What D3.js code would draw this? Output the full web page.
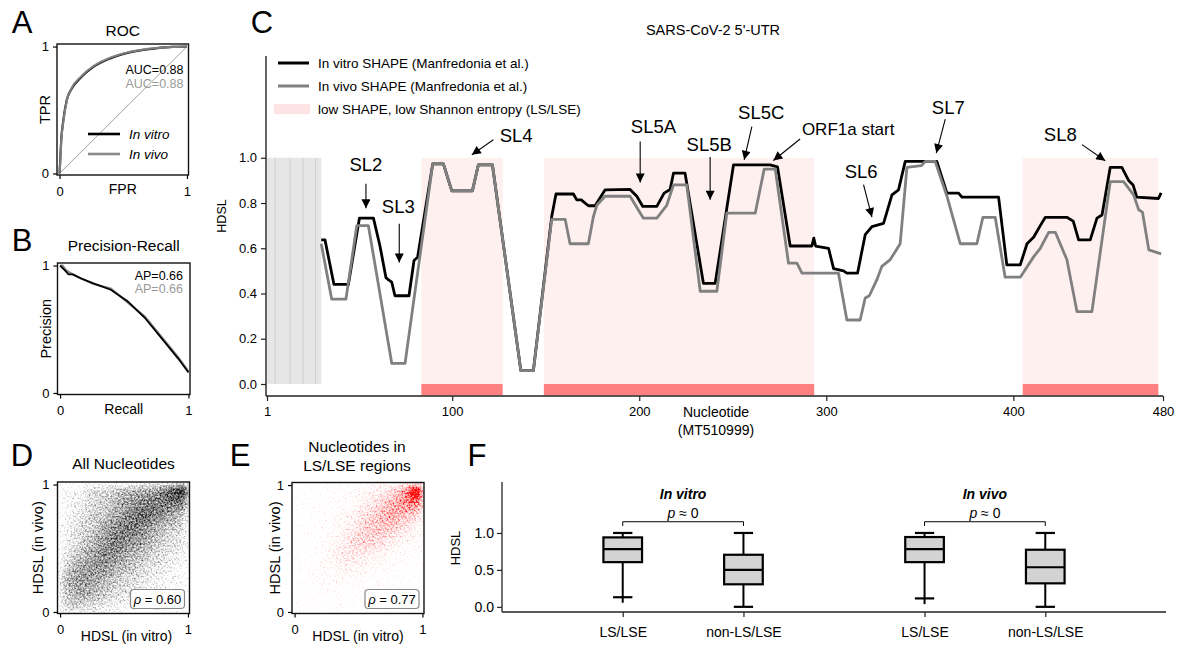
<!DOCTYPE html>
<html>
<head>
<meta charset="utf-8">
<script src="https://cdnjs.cloudflare.com/ajax/libs/d3/7.8.5/d3.min.js"></script>
<style>
  body { margin: 0; background: #fff; }
  svg { font-family: "Liberation Sans", Arial, sans-serif; }
</style>
</head>
<body>
<div id="chart"></div>
<script>
// ---------- data ----------
// A: ROC
const rocFpr      = [0, 0.005, 0.013, 0.03, 0.057, 0.096, 0.161, 0.265, 0.369, 0.525, 0.707, 0.889, 1];
const rocTprVitro = [0, 0.10, 0.26, 0.42, 0.58, 0.67, 0.75, 0.84, 0.895, 0.948, 0.98, 0.997, 1];
const rocTprVivo  = [0, 0.08, 0.25, 0.41, 0.575, 0.675, 0.757, 0.846, 0.9, 0.951, 0.983, 0.998, 1];
const aucLabels = ["AUC=0.88", "AUC=0.88"];

// B: precision-recall
const prRecall    = [0, 0.02, 0.04, 0.066, 0.1, 0.16, 0.26, 0.395, 0.526, 0.66, 0.79, 0.92, 1];
const prPrecVitro = [1, 0.98, 0.96, 0.93, 0.93, 0.9, 0.86, 0.81, 0.72, 0.59, 0.43, 0.27, 0.16];
const prPrecVivo  = [1, 1.0, 0.97, 0.95, 0.93, 0.9, 0.855, 0.82, 0.71, 0.60, 0.44, 0.28, 0.17];
const apLabels = ["AP=0.66", "AP=0.66"];

// C: HDSL profiles along the 5'-UTR  [nucleotide, HDSL]
const vitroLine = [
  [30,0.637],[32,0.637],[36.8,0.44],[44.5,0.44],[50.4,0.733],[57.9,0.733],[61.4,0.61],[64.6,0.47],
  [66,0.46],[67.7,0.45],[69.4,0.39],[76.9,0.39],[79.6,0.546],[81.5,0.56],[89.6,0.973],[95.3,0.973],
  [99.8,0.854],[110.8,0.854],[114,0.969],[121.5,0.969],[136.7,0.059],[143.4,0.059],[153.2,0.74],
  [155.5,0.84],[164.8,0.84],[166.6,0.814],[169,0.814],[172.8,0.788],[176.4,0.788],[181.7,0.858],
  [195.1,0.86],[198.7,0.83],[201.9,0.785],[209.4,0.785],[213.3,0.844],[216.5,0.86],[218.3,0.932],
  [224.5,0.932],[234.3,0.445],[240.6,0.445],[250.4,0.969],[269.9,0.969],[273.9,0.96],[280.7,0.61],
  [292.3,0.61],[293.3,0.645],[294.3,0.61],[301.2,0.60],[303.9,0.51],[309.2,0.50],[311,0.49],
  [316.7,0.49],[320.8,0.66],[324.4,0.696],[330.6,0.71],[335.1,0.836],[338.6,0.858],[342.2,0.984],
  [359.1,0.984],[364.5,0.844],[370.7,0.844],[372.5,0.826],[392.1,0.826],[396.5,0.527],[403.7,0.527],
  [407.3,0.62],[410.9,0.65],[414.4,0.70],[417.1,0.737],[428.6,0.737],[432,0.72],[434.9,0.637],
  [441.1,0.637],[444.7,0.733],[447.4,0.747],[451.8,0.958],[458,0.958],[461.6,0.90],[464,0.88],
  [466,0.826],[477.6,0.82],[479,0.845]
];
const vivoLine = [
  [30,0.62],[35.6,0.375],[43.2,0.375],[49,0.70],[55.2,0.70],[67.7,0.091],[74.8,0.091],[89.6,0.973],
  [95.3,0.973],[99.8,0.854],[110.8,0.854],[114,0.969],[121.5,0.969],[136.7,0.059],[143.4,0.059],
  [153.2,0.728],[160.4,0.728],[163,0.62],[172.8,0.62],[175.5,0.74],[177.3,0.79],[181.7,0.83],
  [195.1,0.83],[202.2,0.733],[209.4,0.733],[214.7,0.79],[218.3,0.88],[225.4,0.88],[232.6,0.41],
  [241.5,0.41],[246.8,0.755],[262,0.755],[266.8,0.95],[272.7,0.95],[279.8,0.534],[284.3,0.534],
  [287,0.49],[306.5,0.49],[311,0.283],[318.1,0.283],[320.8,0.38],[323,0.39],[327,0.46],[329.7,0.52],
  [334.2,0.55],[339.5,0.62],[343.1,0.958],[350.8,0.965],[352.9,0.984],[358.2,0.984],[364.5,0.83],
  [369.8,0.674],[371.6,0.62],[380.5,0.62],[383.7,0.737],[390.3,0.737],[395.6,0.472],[403.7,0.472],
  [410.9,0.563],[414.4,0.60],[418.9,0.67],[422.5,0.67],[428.6,0.55],[434,0.32],[442,0.32],
  [451.8,0.895],[458.9,0.895],[464.3,0.836],[467,0.77],[469,0.76],[472.4,0.593],[479,0.575]
];
const lsRegions = [[83.5, 127], [149, 293.5], [405, 477.5]];
const maskedRegion = [1, 30];
const maskedDividers = [5.3, 13.3, 20.3, 27];
const cTicksX = [1, 100, 200, 300, 400, 480];
const cTicksY = [0, 0.2, 0.4, 0.6, 0.8, 1.0];
// annotations in data units: label, text position, arrow start, arrow end
const cAnnot = [
  {label: "SL2",  t: [53.9, 0.969],  a: [53.9, 0.885],  b: [53.9, 0.777]},
  {label: "SL3",  t: [71.2, 0.785],  a: [71.7, 0.708],  b: [71.7, 0.537]},
  {label: "SL4",  t: [134.2, 1.097], a: [122.0, 1.080], b: [110.5, 1.013]},
  {label: "SL5A", t: [207.6, 1.138], a: [200.5, 1.072], b: [200.5, 0.891]},
  {label: "SL5B", t: [237.4, 1.058], a: [237.9, 1.003], b: [237.9, 0.814]},
  {label: "SL5C", t: [265.2, 1.200], a: [260.2, 1.138], b: [256.1, 0.991]},
  {label: "ORF1a start", t: [311.7, 1.128], a: [286.0, 1.083], b: [271.7, 0.988]},
  {label: "SL6",  t: [318.6, 0.939], a: [319.9, 0.881], b: [324.4, 0.738]},
  {label: "SL7",  t: [365.2, 1.221], a: [363.6, 1.171], b: [358.8, 1.021]},
  {label: "SL8",  t: [425.1, 1.102], a: [436.7, 1.058], b: [449.1, 0.987]}
];
const cLegend = ["In vitro SHAPE (Manfredonia et al.)", "In vivo SHAPE (Manfredonia et al.)",
                 "low SHAPE, low Shannon entropy (LS/LSE)"];

// D, E: point density, rows from HDSL(in vivo) 0-0.1 up to 0.9-1.0, columns HDSL(in vitro) 0 -> 1
const densAll = [
  [0.35,0.35,0.30,0.25,0.20,0.15,0.12,0.10,0.08,0.05],
  [0.40,0.50,0.45,0.35,0.30,0.25,0.20,0.15,0.10,0.08],
  [0.45,0.55,0.50,0.45,0.35,0.30,0.25,0.20,0.15,0.10],
  [0.35,0.50,0.55,0.55,0.45,0.40,0.30,0.25,0.20,0.15],
  [0.25,0.40,0.50,0.60,0.55,0.45,0.40,0.30,0.25,0.20],
  [0.20,0.30,0.45,0.55,0.65,0.55,0.50,0.40,0.30,0.25],
  [0.20,0.30,0.35,0.50,0.60,0.65,0.55,0.45,0.35,0.30],
  [0.15,0.25,0.35,0.40,0.50,0.60,0.70,0.60,0.50,0.40],
  [0.15,0.20,0.30,0.35,0.45,0.55,0.60,0.65,0.65,0.60],
  [0.15,0.20,0.30,0.35,0.40,0.45,0.50,0.55,0.70,0.95]
];
const densLS = [
  [0.03,0.02,0.02,0.01,0.01,0.00,0.00,0.00,0.00,0.00],
  [0.01,0.04,0.05,0.04,0.03,0.02,0.02,0.01,0.01,0.00],
  [0.02,0.06,0.08,0.10,0.08,0.05,0.04,0.03,0.02,0.01],
  [0.01,0.05,0.10,0.15,0.15,0.12,0.08,0.05,0.03,0.02],
  [0.01,0.03,0.10,0.20,0.25,0.20,0.15,0.10,0.06,0.04],
  [0.00,0.02,0.08,0.15,0.30,0.35,0.30,0.20,0.12,0.08],
  [0.00,0.01,0.05,0.12,0.20,0.35,0.40,0.35,0.25,0.15],
  [0.00,0.01,0.03,0.08,0.15,0.30,0.40,0.50,0.40,0.30],
  [0.00,0.00,0.02,0.05,0.10,0.20,0.30,0.45,0.55,0.60],
  [0.00,0.00,0.02,0.05,0.08,0.12,0.20,0.30,0.50,1.00]
];
const rhoAll = "0.60";
const rhoLS = "0.77";

// F: HDSL box plots
const fGroups = ["In vitro", "In vivo"];
const fCats = ["LS/LSE", "non-LS/LSE", "LS/LSE", "non-LS/LSE"];
const fPos = [1, 2, 3.5, 4.5];
const fQ1 = [0.605, 0.305, 0.605, 0.318];
const fMed = [0.78, 0.50, 0.78, 0.536];
const fQ3 = [0.94, 0.705, 0.945, 0.773];
const fWhiskLo = [0.13, 0.0, 0.114, 0.0];
const fWhiskHi = [1, 1, 1, 1];
const fLineLo = [0.055, 0.0, 0.036, 0.0];
const fTicks = [0, 0.5, 1.0];

// ---------- drawing ----------
const svg = d3.select("#chart").append("svg")
    .attr("width", 1179)
    .attr("height", 648);
const defs = svg.append("defs");

defs.append("marker")
    .attr("id", "arrow")
    .attr("viewBox", "0 0 10 10")
    .attr("refX", 10).attr("refY", 5)
    .attr("markerWidth", 10).attr("markerHeight", 9)
    .attr("markerUnits", "userSpaceOnUse")
    .attr("orient", "auto")
    .append("path").attr("d", "M0,0 L10,5 L0,10 z").attr("fill", "#000");

// panel letters
const letters = [["A", 22, 22], ["B", 22, 240], ["C", 262, 22], ["D", 22, 455], ["E", 240, 455], ["F", 477, 455]];
svg.selectAll("text.letter").data(letters).enter().append("text")
    .attr("class", "letter")
    .attr("x", d => d[1])
    .attr("y", d => d[2] + 11)
    .attr("text-anchor", "middle")
    .style("font-size", "31px")
    .text(d => d[0]);

// small framed unit-square panels (A, B, D, E)
function unitPanel(box, opts) {
  const g = svg.append("g");
  const x = d3.scaleLinear().domain([-0.02, 1.012]).range([box.l, box.r]);
  const y = d3.scaleLinear().domain([-0.012, 1.02]).range([box.b, box.t]);

  const ax = g.append("g").attr("transform", `translate(0,${box.b})`)
      .call(d3.axisBottom(x).tickValues([0, 1]).tickFormat(d3.format("d")).tickSize(4).tickPadding(4));
  const ay = g.append("g").attr("transform", `translate(${box.l},0)`)
      .call(d3.axisLeft(y).tickValues([0, 1]).tickFormat(d3.format("d")).tickSize(4).tickPadding(4));
  [ax, ay].forEach(a => {
    a.select(".domain").remove();
    a.selectAll("text").style("font-size", "13px").attr("font-family", null);
    a.selectAll("line").attr("stroke", "#000").attr("stroke-width", 1.2);
  });
  ax.selectAll("text").attr("y", opts.tickDy).attr("dy", "0.35em");

  g.append("text")
      .attr("x", (box.l + box.r) / 2 + (opts.xlShift || 0))
      .attr("y", box.b + opts.xlDy)
      .attr("dy", "0.35em")
      .attr("text-anchor", "middle")
      .style("font-size", "14px")
      .text(opts.xlabel);
  g.append("text")
      .attr("transform", `translate(${opts.ylX},${(box.t + box.b) / 2}) rotate(-90)`)
      .attr("dy", "0.35em")
      .attr("text-anchor", "middle")
      .style("font-size", "14.5px")
      .text(opts.ylabel);
  opts.title.forEach((t, i) => {
    g.append("text")
        .attr("x", (box.l + box.r) / 2 + (opts.titleShift || 0))
        .attr("y", opts.titleY + i * 19)
        .attr("dy", "0.35em")
        .attr("text-anchor", "middle")
        .style("font-size", "15.5px")
        .text(t);
  });
  return {g, x, y, box};
}

function frame(p) {
  p.g.append("rect")
      .attr("x", p.box.l).attr("y", p.box.t)
      .attr("width", p.box.r - p.box.l).attr("height", p.box.b - p.box.t)
      .attr("fill", "none").attr("stroke", "#111").attr("stroke-width", 1.4);
}

// ---- A: ROC
const pA = unitPanel({l: 57, r: 188.5, t: 44, b: 175},
  {xlabel: "FPR", ylabel: "TPR", title: ["ROC"], titleY: 31, tickDy: 16, xlDy: 14, ylX: 45});
pA.g.append("line")
    .attr("x1", pA.x(0)).attr("y1", pA.y(0)).attr("x2", pA.x(1)).attr("y2", pA.y(1))
    .attr("stroke", "#999").attr("stroke-width", 0.9);
const rocLine = d3.line().x(d => pA.x(d[0])).y(d => pA.y(d[1])).curve(d3.curveMonotoneX);
pA.g.append("path").attr("d", rocLine(rocFpr.map((f, i) => [f, rocTprVitro[i]])))
    .attr("fill", "none").attr("stroke", "#000").attr("stroke-width", 2.2);
pA.g.append("path").attr("d", rocLine(rocFpr.map((f, i) => [f, rocTprVivo[i]])))
    .attr("fill", "none").attr("stroke", "#8a8a8a").attr("stroke-width", 2.2).attr("stroke-opacity", 0.9);
aucLabels.forEach((t, i) => {
  pA.g.append("text").attr("x", pA.box.r - 5).attr("y", 70 + i * 14).attr("dy", "0.35em")
      .attr("text-anchor", "end").style("font-size", "12.5px")
      .attr("fill", i ? "#999" : "#000").text(t);
});
[["In vitro", "#000"], ["In vivo", "#8a8a8a"]].forEach((d, i) => {
  const yy = 134 + i * 20;
  pA.g.append("line").attr("x1", 88).attr("x2", 120).attr("y1", yy).attr("y2", yy)
      .attr("stroke", d[1]).attr("stroke-width", 2.6);
  pA.g.append("text").attr("x", 129).attr("y", yy).attr("dy", "0.35em")
      .style("font-size", "13.5px").style("font-style", "italic").text(d[0]);
});
frame(pA);

// ---- B: Precision-Recall
const pB = unitPanel({l: 57.5, r: 190, t: 263, b: 394.5},
  {xlabel: "Recall", ylabel: "Precision", title: ["Precision-Recall"], titleY: 246, tickDy: 16, xlDy: 15, ylX: 46});
const prLine = d3.line().x(d => pB.x(d[0])).y(d => pB.y(d[1]));
pB.g.append("path").attr("d", prLine(prRecall.map((r, i) => [r, prPrecVivo[i]])))
    .attr("fill", "none").attr("stroke", "#8a8a8a").attr("stroke-width", 2.2);
pB.g.append("path").attr("d", prLine(prRecall.map((r, i) => [r, prPrecVitro[i]])))
    .attr("fill", "none").attr("stroke", "#000").attr("stroke-width", 1.8);
apLabels.forEach((t, i) => {
  pB.g.append("text").attr("x", pB.box.r - 7).attr("y", 276 + i * 13).attr("dy", "0.35em")
      .attr("text-anchor", "end").style("font-size", "12.5px")
      .attr("fill", i ? "#999" : "#000").text(t);
});
frame(pB);

// ---- D, E: density scatter, drawn as a dithered density map
function densityPanel(p, grid, rgb, id, rho, k, table) {
  const filt = defs.append("filter").attr("id", id)
      .attr("x", "-5%").attr("y", "-5%").attr("width", "110%").attr("height", "110%")
      .attr("color-interpolation-filters", "sRGB");
  filt.append("feGaussianBlur").attr("in", "SourceGraphic").attr("stdDeviation", 4).attr("result", "blur");
  filt.append("feTurbulence").attr("type", "fractalNoise").attr("baseFrequency", 0.55)
      .attr("numOctaves", 2).attr("seed", 7).attr("result", "noise");
  filt.append("feColorMatrix").attr("in", "noise").attr("type", "matrix")
      .attr("values", `0 0 0 0 ${rgb[0]}  0 0 0 0 ${rgb[1]}  0 0 0 0 ${rgb[2]}  1 0 0 0 0`)
      .attr("result", "grain");
  filt.append("feComposite").attr("in", "blur").attr("in2", "grain").attr("operator", "arithmetic")
      .attr("k1", 0).attr("k2", k[0]).attr("k3", k[1]).attr("k4", k[2]).attr("result", "dots");
  filt.append("feComponentTransfer").attr("in", "dots")
    .append("feFuncA").attr("type", "table").attr("tableValues", table);
  defs.append("clipPath").attr("id", id + "-clip").append("rect")
      .attr("x", p.box.l).attr("y", p.box.t)
      .attr("width", p.box.r - p.box.l).attr("height", p.box.b - p.box.t);

  const cells = [];
  grid.forEach((row, r) => row.forEach((v, c) => cells.push({r, c, v})));
  const n = grid.length;
  const color = `rgb(${rgb.map(v => v * 255).join(",")})`;
  p.g.append("g").attr("clip-path", `url(#${id}-clip)`)
    .append("g").attr("filter", `url(#${id})`)
    .selectAll("rect").data(cells).enter().append("rect")
      .attr("x", d => p.x(d.c / n))
      .attr("y", d => p.y((d.r + 1) / n))
      .attr("width", p.x(1 / n) - p.x(0) + 0.5)
      .attr("height", p.y(0) - p.y(1 / n) + 0.5)
      .attr("fill", color)
      .attr("fill-opacity", d => d.v);
  frame(p);

  const bw = 54, bh = 19;
  const bx = p.box.r - 5 - bw, by = p.box.b - 5 - bh;
  p.g.append("rect").attr("x", bx).attr("y", by).attr("width", bw).attr("height", bh)
      .attr("rx", 3.5).attr("fill", "#fff").attr("fill-opacity", 0.85)
      .attr("stroke", "#888").attr("stroke-width", 1.2);
  const t = p.g.append("text").attr("x", bx + bw / 2).attr("y", by + bh / 2).attr("dy", "0.35em")
      .attr("text-anchor", "middle").style("font-size", "13px");
  t.append("tspan").style("font-style", "italic").text("\u03c1");
  t.append("tspan").text(" = " + rho);
}

const pD = unitPanel({l: 57.5, r: 189.5, t: 482, b: 613.5},
  {xlabel: "HDSL (in vitro)", ylabel: "HDSL (in vivo)", title: ["All Nucleotides"], titleY: 464,
   tickDy: 16, xlDy: 23, ylX: 38, xlShift: 3});
densityPanel(pD, densAll, [0, 0, 0], "grainD", rhoAll, [1.4, 1.4, -0.95], "0 0.15 0.35 0.6 0.9");

const pE = unitPanel({l: 292, r: 424, t: 482.5, b: 613.5},
  {xlabel: "HDSL (in vitro)", ylabel: "HDSL (in vivo)", title: ["Nucleotides in", "LS/LSE regions"],
   titleY: 447, tickDy: 16, xlDy: 23, ylX: 275, titleShift: -1});
densityPanel(pE, densLS, [1, 0, 0], "grainE", rhoLS, [1.5, 1.5, -0.95], "0 0.1 0.25 0.5 0.95");

// ---- C: HDSL along the 5'-UTR
const gC = svg.append("g");
const xC = d3.scaleLinear().domain([1, 480]).range([267, 1163]);
const yC = d3.scaleLinear().domain([-0.05, 1.45]).range([395.3, 56]);

gC.append("rect")
    .attr("x", xC(maskedRegion[0])).attr("y", yC(1))
    .attr("width", xC(maskedRegion[1]) - xC(maskedRegion[0])).attr("height", yC(0) - yC(1))
    .attr("fill", "#e6e6e6");
gC.selectAll("line.mask").data(maskedDividers).enter().append("line")
    .attr("x1", d => xC(d)).attr("x2", d => xC(d)).attr("y1", yC(1)).attr("y2", yC(0))
    .attr("stroke", "#cfcfcf").attr("stroke-width", 1);

gC.selectAll("rect.ls").data(lsRegions).enter().append("rect")
    .attr("x", d => xC(d[0])).attr("y", yC(1))
    .attr("width", d => xC(d[1]) - xC(d[0])).attr("height", yC(0) - yC(1))
    .attr("fill", "#fff0f0");
gC.selectAll("rect.lsbar").data(lsRegions).enter().append("rect")
    .attr("x", d => xC(d[0])).attr("y", yC(0))
    .attr("width", d => xC(d[1]) - xC(d[0])).attr("height", yC(-0.05) - yC(0))
    .attr("fill", "#ff8080");

const profile = d3.line().x(d => xC(d[0])).y(d => yC(d[1]));
gC.append("path").attr("d", profile(vitroLine))
    .attr("fill", "none").attr("stroke", "#000").attr("stroke-width", 2.8).attr("stroke-linejoin", "round");
gC.append("path").attr("d", profile(vivoLine))
    .attr("fill", "none").attr("stroke", "#808080").attr("stroke-width", 2.8).attr("stroke-linejoin", "round");

// spines and ticks
gC.append("line").attr("x1", 266).attr("x2", 266).attr("y1", yC(1.45)).attr("y2", yC(-0.05) + 0.7)
    .attr("stroke", "#222").attr("stroke-width", 1.4);
gC.append("line").attr("x1", 266).attr("x2", xC(480)).attr("y1", yC(-0.05) + 0.7).attr("y2", yC(-0.05) + 0.7)
    .attr("stroke", "#222").attr("stroke-width", 1.4);
const axYC = gC.append("g").attr("transform", "translate(266,0)")
    .call(d3.axisLeft(yC).tickValues(cTicksY).tickFormat(d3.format(".1f")).tickSize(5).tickPadding(4));
const axXC = gC.append("g").attr("transform", `translate(0,${yC(-0.05) + 0.7})`)
    .call(d3.axisBottom(xC).tickValues(cTicksX).tickFormat(d3.format("d")).tickSize(5).tickPadding(4));
[axYC, axXC].forEach(a => {
  a.select(".domain").remove();
  a.selectAll("line").attr("stroke", "#222").attr("stroke-width", 1.2);
  a.selectAll("text").attr("font-family", null).style("font-size", "13px");
});
axXC.selectAll("text").attr("y", 15).attr("dy", "0.35em");

gC.append("text").attr("x", 716).attr("y", 412).attr("dy", "0.35em")
    .attr("text-anchor", "middle").style("font-size", "14px").text("Nucleotide");
gC.append("text").attr("x", 716).attr("y", 430).attr("dy", "0.35em")
    .attr("text-anchor", "middle").style("font-size", "14px").text("(MT510999)");
gC.append("text").attr("transform", "translate(222,216) rotate(-90)").attr("dy", "0.35em")
    .attr("text-anchor", "middle").style("font-size", "12.5px").text("HDSL");
gC.append("text").attr("x", 713).attr("y", 30).attr("dy", "0.35em")
    .attr("text-anchor", "middle").style("font-size", "14.5px").text("SARS-CoV-2 5'-UTR");

// legend
cLegend.forEach((t, i) => {
  const yy = 63 + i * 23;
  if (i < 2) {
    gC.append("line").attr("x1", 278).attr("x2", 309).attr("y1", yy).attr("y2", yy)
        .attr("stroke", i ? "#808080" : "#000").attr("stroke-width", 3);
  } else {
    gC.append("rect").attr("x", 274).attr("y", yy - 5).attr("width", 36).attr("height", 10)
        .attr("fill", "#fde3e3");
  }
  gC.append("text").attr("x", 318).attr("y", yy).attr("dy", "0.35em")
      .style("font-size", "13.5px").text(t);
});

// annotations
cAnnot.forEach(d => {
  gC.append("line")
      .attr("x1", xC(d.a[0])).attr("y1", yC(d.a[1]))
      .attr("x2", xC(d.b[0])).attr("y2", yC(d.b[1]))
      .attr("stroke", "#000").attr("stroke-width", 1.1)
      .attr("marker-end", "url(#arrow)");
  gC.append("text")
      .attr("x", xC(d.t[0])).attr("y", yC(d.t[1])).attr("dy", "0.35em")
      .attr("text-anchor", "middle")
      .style("font-size", d.label.length > 5 ? "17px" : "18.5px")
      .text(d.label);
});

// ---- F: box plots
const gF = svg.append("g");
const xF = d3.scaleLinear().domain([0, 5.5]).range([502, 1166]);
const yF = d3.scaleLinear().domain([-0.07, 1.69]).range([612, 482]);
const boxW = 0.32, capW = 0.16;

gF.append("line").attr("x1", xF(0)).attr("x2", xF(0)).attr("y1", yF(1.69)).attr("y2", yF(-0.07))
    .attr("stroke", "#222").attr("stroke-width", 1.3);
gF.append("line").attr("x1", xF(0)).attr("x2", xF(5.5)).attr("y1", yF(-0.07)).attr("y2", yF(-0.07))
    .attr("stroke", "#222").attr("stroke-width", 1.3);
const axYF = gF.append("g").attr("transform", `translate(${xF(0)},0)`)
    .call(d3.axisLeft(yF).tickValues(fTicks).tickFormat(d3.format(".1f")).tickSize(5).tickPadding(3));
const axXF = gF.append("g").attr("transform", `translate(0,${yF(-0.07)})`)
    .call(d3.axisBottom(xF).tickValues(fPos).tickFormat((d, i) => fCats[i]).tickSize(5).tickPadding(6));
[axYF, axXF].forEach(a => {
  a.select(".domain").remove();
  a.selectAll("line").attr("stroke", "#222").attr("stroke-width", 1.2);
  a.selectAll("text").attr("font-family", null).style("font-size", "14px");
});
axXF.selectAll("text").attr("y", 20).attr("dy", "0.35em");
gF.append("text").attr("transform", "translate(455,548) rotate(-90)").attr("dy", "0.35em")
    .attr("text-anchor", "middle").style("font-size", "13px").text("HDSL");

const boxes = fPos.map((p, i) => ({p, q1: fQ1[i], med: fMed[i], q3: fQ3[i],
  lo: fWhiskLo[i], hi: fWhiskHi[i], end: fLineLo[i]}));
const bg = gF.selectAll("g.box").data(boxes).enter().append("g");
bg.append("line")
    .attr("x1", d => xF(d.p)).attr("x2", d => xF(d.p))
    .attr("y1", d => yF(d.hi)).attr("y2", d => yF(d.end))
    .attr("stroke", "#000").attr("stroke-width", 2);
bg.append("rect")
    .attr("x", d => xF(d.p - boxW / 2)).attr("y", d => yF(d.q3))
    .attr("width", xF(boxW) - xF(0)).attr("height", d => yF(d.q1) - yF(d.q3))
    .attr("fill", "#d3d3d3").attr("stroke", "#000").attr("stroke-width", 2.2);
bg.append("line")
    .attr("x1", d => xF(d.p - boxW / 2)).attr("x2", d => xF(d.p + boxW / 2))
    .attr("y1", d => yF(d.med)).attr("y2", d => yF(d.med))
    .attr("stroke", "#000").attr("stroke-width", 2.2);
["hi", "lo"].forEach(k => {
  bg.append("line")
      .attr("x1", d => xF(d.p - capW / 2)).attr("x2", d => xF(d.p + capW / 2))
      .attr("y1", d => yF(d[k])).attr("y2", d => yF(d[k]))
      .attr("stroke", "#000").attr("stroke-width", 2.2);
});

fGroups.forEach((g, i) => {
  const a = fPos[i * 2], b = fPos[i * 2 + 1];
  gF.append("text").attr("x", xF((a + b) / 2)).attr("y", yF(1.53)).attr("dy", "0.35em")
      .attr("text-anchor", "middle").style("font-size", "14px")
      .style("font-weight", "bold").style("font-style", "italic").text(g);
  gF.append("path")
      .attr("d", `M${xF(a)},${yF(1.095)} V${yF(1.152)} H${xF(b)} V${yF(1.095)}`)
      .attr("fill", "none").attr("stroke", "#000").attr("stroke-width", 1);
  const pt = gF.append("text").attr("x", xF((a + b) / 2)).attr("y", yF(1.27)).attr("dy", "0.35em")
      .attr("text-anchor", "middle").style("font-size", "14px");
  pt.append("tspan").style("font-style", "italic").text("p");
  pt.append("tspan").text(" \u2248 0");
});
</script>
</body>
</html>
